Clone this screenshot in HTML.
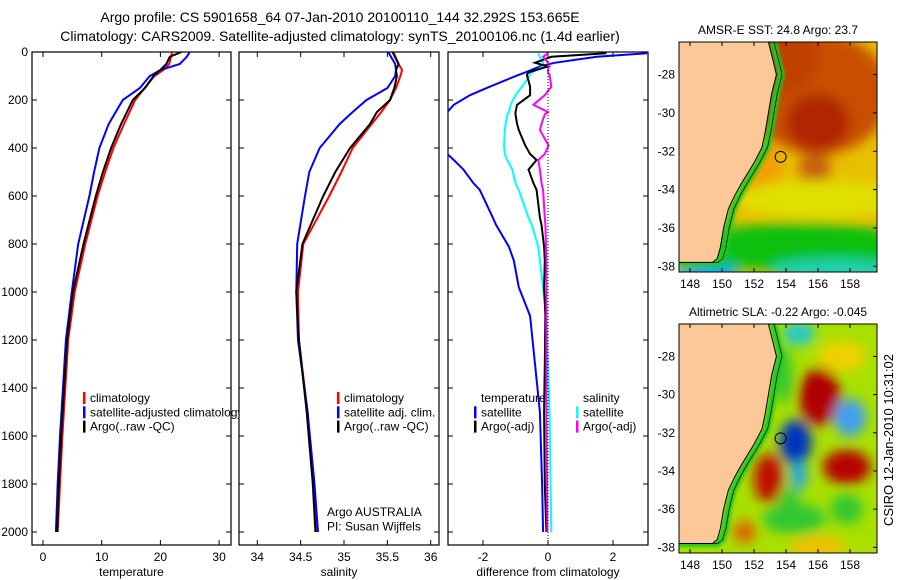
<!DOCTYPE html>
<html><head><meta charset="utf-8">
<style>
body{margin:0;background:#fff;}
svg{display:block;font-family:"Liberation Sans",sans-serif;}
</style></head><body>
<svg id="fig" width="900" height="580" viewBox="0 0 900 580">
<defs>
<clipPath id="c1"><rect x="32" y="52" width="199" height="493"/></clipPath>
<clipPath id="c2"><rect x="239" y="52" width="200" height="493"/></clipPath>
<clipPath id="c3"><rect x="448" y="52" width="200" height="493"/></clipPath>
<clipPath id="leg1"><rect x="0" y="0" width="239" height="580"/></clipPath>
<clipPath id="m1"><rect x="679" y="42" width="198" height="230"/></clipPath>
<clipPath id="m2"><rect x="679" y="324" width="198" height="229"/></clipPath>
<filter id="bl" x="-50%" y="-50%" width="200%" height="200%"><feGaussianBlur stdDeviation="6"/></filter>
<filter id="bl2" x="-50%" y="-50%" width="200%" height="200%"><feGaussianBlur stdDeviation="1.5"/></filter>
</defs>
<text x="340" y="22" font-size="14" text-anchor="middle">Argo profile: CS 5901658_64 07-Jan-2010 20100110_144 32.292S 153.665E</text>
<text x="340" y="41" font-size="14" text-anchor="middle">Climatology: CARS2009. Satellite-adjusted climatology: synTS_20100106.nc (1.4d earlier)</text>
<g id="plots"></g>
<g id="maps"></g>
</svg>
<script>
// ---- data ----
const depthT = [0,20,50,75,100,150,200,300,400,500,600,800,1000,1200,1400,1600,1800,2000];
const tempClim = [22,21.8,21.5,20.5,19,17.3,15.7,13.8,12,10.6,9.3,7.2,5.4,4.3,3.8,3.3,2.9,2.5];
const tempSat  = [25,24.5,23.3,20,18.2,16.5,13.6,11.2,9.6,8.7,7.9,6,4.9,3.9,3.4,2.9,2.5,2.2];
const tempArgo = [23.6,21.6,21,20,18.8,17.4,15.3,13.3,11.6,10.2,9,6.9,5.1,4.1,3.6,3.1,2.7,2.4];
const depthS = [0,50,75,100,150,200,250,300,400,500,600,800,1000,1200,1500,1800,2000];
const salClim = [35.57,35.63,35.67,35.65,35.6,35.53,35.43,35.32,35.1,34.97,34.83,34.53,34.47,34.48,34.58,34.65,34.69];
const salSat  = [35.51,35.59,35.6,35.59,35.5,35.26,35.1,34.95,34.72,34.6,34.55,34.46,34.45,34.47,34.58,34.66,34.7];
const salArgo = [35.56,35.63,35.6,35.61,35.58,35.53,35.38,35.3,35.07,34.9,34.76,34.52,34.45,34.48,34.57,34.64,34.67];
const depthD = [5,20,45,60,85,95,145,180,220,250,260,300,325,390,425,450,490,546,575,690,720,812,870,980,1100,1300,1500,1800,2000];
const dTempSat = [3.05,1.5,0.2,-0.25,-0.7,-0.9,-1.8,-2.4,-2.9,-3.1,-3.3,-3.6,-3.6,-3.3,-3.1,-2.9,-2.6,-2.3,-2.1,-1.7,-1.6,-1.2,-1.05,-0.9,-0.55,-0.4,-0.25,-0.18,-0.15];
const dTempArgo = [1.8,0.1,-0.4,0,-0.6,-0.65,-0.55,-0.55,-0.95,-1.0,-1.0,-0.95,-0.9,-0.7,-0.55,-0.35,-0.6,-0.45,-0.35,-0.25,-0.2,-0.12,-0.1,-0.12,-0.08,-0.1,-0.12,-0.1,-0.05];
const dSalSat = [-0.3,-0.25,-0.15,-0.15,-0.5,-0.55,-0.8,-1.0,-1.15,-1.2,-1.25,-1.3,-1.33,-1.35,-1.33,-1.25,-1.1,-1.0,-0.9,-0.6,-0.5,-0.3,-0.25,-0.15,-0.05,0.0,0.05,0.08,0.1];
const dSalArgo = [0,-0.15,0,0.02,0,0.05,0.1,-0.1,-0.45,0.0,-0.1,-0.2,-0.25,0.02,-0.1,-0.3,-0.25,-0.2,-0.15,-0.1,-0.08,-0.06,-0.05,-0.05,-0.05,-0.05,-0.05,-0.03,-0.02];
const yTicks = [0,200,400,600,800,1000,1200,1400,1600,1800,2000];
const xTicks1 = [0,10,20,30];
const xTicks2 = ["34","34.5","35","35.5","36"];
const xTicks3 = [-2,0,2];
const lonTicks = [148,150,152,154,156,158];
const latTicks = [-28,-30,-32,-34,-36,-38];
const coastLon = [152.9,153.2,153.4,153.1,152.9,152.7,152.5,152.0,151.2,150.8,150.4,150.1,149.9,149.7,149.4,148.0,147.0];
const coastLat = [-26.3,-27.3,-28.0,-29.0,-30.0,-31.0,-31.8,-32.6,-33.7,-34.3,-35.0,-36.0,-37.0,-37.6,-37.8,-37.8,-37.8];
const argoLon = 153.665, argoLat = -32.292;

const NS='http://www.w3.org/2000/svg';
function mk(tag,attrs,parent){const e=document.createElementNS(NS,tag);for(const k in attrs)e.setAttribute(k,attrs[k]);parent.appendChild(e);return e;}
const plots=document.getElementById('plots');
const Y0=52, yScale=v=>Y0+v*0.24;

function panel(name,x0,x1,fx,xt,xlabels,label,clip){
  const g=mk('g',{},plots);
  
  
  const r=mk('rect',{x:x0,y:52,width:x1-x0,height:493,fill:'none',stroke:'#000','stroke-width':1.2},g);
  
  
  xt.forEach((t,i)=>{const x=fx(+t);
    mk('line',{x1:x,x2:x,y1:545,y2:540,stroke:'#000'},g);
    mk('line',{x1:x,x2:x,y1:52,y2:57,stroke:'#000'},g);
    const tx=mk('text',{x:x,y:561,'font-size':12,'text-anchor':'middle'},g);tx.textContent=xlabels[i];
    
    
  });
  yTicks.forEach(d=>{const y=yScale(d);
    mk('line',{x1:x0,x2:x0+5,y1:y,y2:y,stroke:'#000'},g);
    mk('line',{x1:x1-5,x2:x1,y1:y,y2:y,stroke:'#000'},g);
  });
  const xl=mk('text',{x:(x0+x1)/2,y:576,'font-size':12,'text-anchor':'middle'},g);xl.textContent=label;
  
  
  const lines=mk('g',{'clip-path':'url(#'+clip+')'},g);
  return {g,lines,fx};
}
function series(p,xs,ds,color,name){
  const pts=xs.map((v,i)=>p.fx(v).toFixed(1)+','+yScale(ds[i]).toFixed(1)).join(' ');
  const pl=mk('polyline',{points:pts,fill:'none',stroke:color,'stroke-width':2},p.lines);
  
  
}
const p1=panel('temperature',32,231,v=>43+v*5.87,xTicks1,xTicks1.map(String),'temperature','c1');
yTicks.forEach(d=>{const t=mk('text',{x:28,y:yScale(d)+4,'font-size':12,'text-anchor':'end'},plots);t.textContent=d;
  
  });
series(p1,tempClim,depthT,'#f00','temp-climatology-line');
series(p1,tempSat,depthT,'#00f','temp-satellite-line');
series(p1,tempArgo,depthT,'#000','temp-argo-line');
const p2=panel('salinity',239,439,v=>257.3+(v-34)*86.7,xTicks2,xTicks2,'salinity','c2');
series(p2,salClim,depthS,'#f00','sal-climatology-line');
series(p2,salSat,depthS,'#00f','sal-satellite-line');
series(p2,salArgo,depthS,'#000','sal-argo-line');
const p3=panel('difference',448,648,v=>548+v*32.5,xTicks3,xTicks3.map(String),'difference from climatology','c3');
mk('line',{x1:548,x2:548,y1:52,y2:545,stroke:'#000','stroke-dasharray':'1,2'},p3.g);
series(p3,dTempSat,depthD,'#00f','diff-temp-satellite-line');
series(p3,dSalSat,depthD,'#0ff','diff-sal-satellite-line');
series(p3,dTempArgo,depthD,'#000','diff-temp-argo-line');
series(p3,dSalArgo,depthD,'#f0f','diff-sal-argo-line');

function legend(x,y,items,clip){
  const g=mk('g',clip?{'clip-path':'url(#'+clip+')'}:{},plots);
  
  
  items.forEach((it,i)=>{
    const yy=y+i*14.3;
    if(it[1]) mk('rect',{x:x,y:yy-10,width:2.5,height:12,fill:it[1]},g);
    const t=mk('text',{x:x+7,y:yy,'font-size':12},g);t.textContent=it[0];
    
    
  });
}
legend(83,402,[['climatology','#f00'],['satellite-adjusted climatology','#00f'],['Argo(..raw -QC)','#000']],'leg1');
legend(337,402,[['climatology','#f00'],['satellite adj. clim.','#00f'],['Argo(..raw -QC)','#000']]);
legend(320,516,[['Argo AUSTRALIA',null],['PI: Susan Wijffels',null]]);
legend(474,402,[['temperature',null],['satellite','#00f'],['Argo(-adj)','#000']]);
legend(576,402,[['salinity',null],['satellite','#0ff'],['Argo(-adj)','#f0f']]);

// ---- maps ----
const maps=document.getElementById('maps');
function map(name,top,bot,clip,title,bg,blobs){
  const L=679,R=877;
  const px=lon=>690+(lon-148)*16, py=lat=>top+( -26.3-lat)*((bot-top)/12);
  const g=mk('g',{},maps);
  
  
  const inner=mk('g',{'clip-path':'url(#'+clip+')'},g);
  mk('rect',{x:L,y:top,width:R-L,height:bot-top,fill:bg},inner);
  const bg2=mk('g',{filter:'url(#bl)'},inner);
  blobs.forEach(b=>mk('ellipse',{cx:px(b[0]),cy:py(b[1]),rx:b[2]*16,ry:b[3]*19,fill:b[4]},bg2));
  const shelf=coastLon.map((v,i)=>px(v+0.3).toFixed(1)+','+py(coastLat[i]).toFixed(1)).join(' ');
  mk('polyline',{points:shelf,fill:'none',stroke:'#20c820','stroke-width':7,filter:'url(#bl2)'},inner);
  let land=coastLon.map((v,i)=>px(v).toFixed(1)+','+py(coastLat[i]).toFixed(1)).join(' ');
  land+=' '+px(147)+','+(bot+5)+' '+(L-5)+','+(bot+5)+' '+(L-5)+','+(top-5)+' '+px(coastLon[0])+','+(top-5);
  const lp=mk('polygon',{points:land,fill:'#fcc898',stroke:'#000','stroke-width':1},inner);
  
  
  const iso=coastLon.map((v,i)=>px(v+0.35).toFixed(1)+','+py(coastLat[i]).toFixed(1)).join(' ');
  mk('polyline',{points:iso,fill:'none',stroke:'#000','stroke-width':0.7},inner);
  const c=mk('circle',{cx:px(argoLon),cy:py(argoLat),r:5.5,fill:'none',stroke:'#000','stroke-width':1},g);
  
  
  mk('rect',{x:L,y:top,width:R-L,height:bot-top,fill:'none',stroke:'#000'},g);
  lonTicks.forEach(l=>{const x=px(l);mk('line',{x1:x,x2:x,y1:bot,y2:bot-4,stroke:'#000'},g);mk('line',{x1:x,x2:x,y1:top,y2:top+4,stroke:'#000'},g);
    const t=mk('text',{x:x,y:bot+16,'font-size':12,'text-anchor':'middle'},g);t.textContent=l;
    
    });
  latTicks.forEach(l=>{const y=py(l);mk('line',{x1:R,x2:R-4,y1:y,y2:y,stroke:'#000'},g);
    const t=mk('text',{x:L-4,y:y+4,'font-size':12,'text-anchor':'end'},g);t.textContent=l;
    
    });
  const tt=mk('text',{x:778,y:top-8,'font-size':12,'text-anchor':'middle'},g);tt.textContent=title;
  
  
}
map('sst-map',42,272,'m1','AMSR-E SST: 24.8 Argo: 23.7','#e8c000',[
  [156,-29,4.5,3.2,'#c85000'],[156,-30.5,2,1.5,'#b02800'],[154,-27,2,2,'#c04000'],[155.8,-33,1,1,'#c86010'],
  [152.5,-33,1.3,1.5,'#f0a000'],[156,-34.5,5,1,'#e0e000'],[155,-37,7,1.3,'#10c010'],[157,-38.2,4,0.6,'#20d0b0'],[149,-38.3,2,0.5,'#10b0f0']]);
map('sla-map',324,553,'m2','Altimetric SLA: -0.22 Argo: -0.045','#a8e000',[
  [156.1,-30.1,1.3,1.5,'#b00000'],[152.9,-34.4,0.9,1.3,'#c01000'],[157.8,-33.8,1.5,0.9,'#b80000'],[151.4,-37.2,0.7,0.6,'#e06000'],
  [154.6,-32.5,1,1.2,'#0030c0'],[154.8,-34.2,0.5,0.8,'#20a0f0'],[158,-31.2,1,1,'#40a0f0'],[154.8,-26.8,1,0.6,'#20c8d0'],
  [154.5,-36.5,2,0.8,'#30c830'],[153.8,-29,0.6,1.5,'#30c830'],[157.8,-36,1,0.8,'#30c830'],[156,-38,1.8,0.6,'#f0c000'],
  [157.5,-28,1.5,0.8,'#f0d000'],[154.2,-35.5,0.6,0.6,'#30c830']]);
const cs=mk('text',{x:0,y:0,'font-size':13,'text-anchor':'middle',transform:'translate(893,440) rotate(-90)'},maps);
cs.textContent='CSIRO 12-Jan-2010 10:31:02';


</script>
</body></html>
